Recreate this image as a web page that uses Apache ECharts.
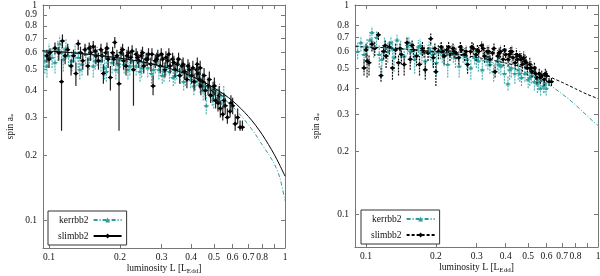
<!DOCTYPE html>
<html><head><meta charset="utf-8">
<script src="https://cdn.jsdelivr.net/npm/echarts@6/dist/echarts.min.js"></script>
<style>html,body{margin:0;padding:0;background:#fff}#c{width:600px;height:276px}</style>
</head><body><div id="c"></div>
<script>
// ---- ticks ----
const xTicks = [0.1,0.2,0.3,0.4,0.5,0.6,0.7,0.8,0.9,1];
const xTickLabels = [0.1,0.2,0.3,0.4,0.5,0.6,0.7,0.8,1];
const yTicks = [0.1,0.2,0.3,0.4,0.5,0.6,0.7,0.8,0.9,1];

// ---- left panel: slimbb2 (black) ----
const leftSlimL  = [0.098,0.100,0.101,0.106,0.110,0.113,0.114,0.117,0.120,0.124,0.127,0.130,0.133,0.136,0.139,0.142,0.146,0.150,0.154,0.158,0.162,0.166,0.170,0.174,0.178,0.182,0.186,0.190,0.194,0.198,0.202,0.207,0.212,0.217,0.222,0.228,0.234,0.240,0.246,0.252,0.258,0.264,0.270,0.276,0.282,0.289,0.296,0.303,0.310,0.318,0.326,0.334,0.342,0.350,0.358,0.366,0.375,0.384,0.393,0.402,0.412,0.422,0.428,0.434,0.440,0.448,0.460,0.472,0.484,0.496,0.508,0.520,0.532,0.545,0.558,0.570,0.585,0.600,0.615,0.630,0.645,0.660];
const leftSlimA  = [0.58,0.56,0.60,0.63,0.60,0.44,0.68,0.58,0.62,0.52,0.58,0.48,0.66,0.60,0.55,0.62,0.52,0.60,0.64,0.58,0.55,0.62,0.48,0.60,0.56,0.46,0.60,0.67,0.58,0.43,0.60,0.55,0.52,0.60,0.57,0.50,0.59,0.55,0.58,0.52,0.56,0.59,0.53,0.42,0.55,0.58,0.52,0.56,0.50,0.55,0.52,0.56,0.50,0.53,0.47,0.52,0.49,0.45,0.50,0.47,0.44,0.50,0.48,0.45,0.42,0.44,0.40,0.42,0.38,0.40,0.36,0.35,0.33,0.31,0.34,0.30,0.32,0.34,0.28,0.30,0.27,0.27];
const leftSlimLo = [0.54,0.51,0.56,0.59,0.55,0.26,0.63,0.53,0.58,0.47,0.54,0.42,0.62,0.56,0.50,0.58,0.47,0.55,0.60,0.53,0.50,0.58,0.43,0.56,0.51,0.40,0.56,0.63,0.53,0.26,0.56,0.50,0.47,0.56,0.53,0.34,0.55,0.51,0.54,0.48,0.52,0.55,0.49,0.38,0.51,0.54,0.48,0.52,0.46,0.51,0.48,0.52,0.46,0.49,0.43,0.48,0.45,0.41,0.46,0.43,0.40,0.46,0.44,0.41,0.38,0.40,0.36,0.38,0.35,0.36,0.33,0.32,0.30,0.29,0.31,0.28,0.30,0.31,0.26,0.28,0.26,0.26];
const leftSlimHi = [0.62,0.60,0.63,0.67,0.64,0.56,0.73,0.62,0.66,0.56,0.62,0.54,0.69,0.64,0.60,0.66,0.57,0.65,0.68,0.62,0.60,0.66,0.53,0.64,0.61,0.52,0.64,0.71,0.62,0.56,0.64,0.60,0.57,0.64,0.61,0.55,0.63,0.59,0.62,0.56,0.60,0.63,0.57,0.47,0.59,0.62,0.56,0.60,0.54,0.59,0.56,0.60,0.54,0.57,0.51,0.56,0.53,0.49,0.54,0.51,0.48,0.54,0.52,0.49,0.46,0.48,0.44,0.46,0.42,0.44,0.40,0.38,0.36,0.34,0.37,0.33,0.35,0.37,0.31,0.33,0.29,0.29];
const leftSlimExtraL  = [0.148,0.157,0.168,0.176,0.188,0.205,0.214,0.225,0.237,0.249,0.261,0.273,0.286,0.299,0.313,0.322,0.338,0.354,0.370,0.388,0.407,0.425,0.437,0.454,0.478,0.502,0.526,0.551,0.590];
const leftSlimExtraA  = [0.63,0.61,0.58,0.63,0.56,0.62,0.58,0.61,0.57,0.60,0.56,0.59,0.56,0.59,0.57,0.59,0.54,0.56,0.53,0.52,0.51,0.53,0.51,0.47,0.45,0.42,0.38,0.36,0.35];
const leftSlimExtraLo = [0.59,0.57,0.54,0.59,0.52,0.58,0.54,0.57,0.53,0.56,0.52,0.55,0.52,0.55,0.53,0.55,0.50,0.52,0.49,0.48,0.47,0.49,0.47,0.43,0.41,0.38,0.35,0.33,0.32];
const leftSlimExtraHi = [0.67,0.65,0.62,0.67,0.60,0.66,0.62,0.65,0.61,0.64,0.60,0.63,0.60,0.63,0.61,0.63,0.58,0.60,0.57,0.56,0.55,0.57,0.55,0.51,0.49,0.46,0.42,0.39,0.38];

// ---- left panel: kerrbb2 (teal) ----
const leftKerrL  = [0.094,0.096,0.098,0.100,0.103,0.106,0.109,0.111,0.113,0.115,0.118,0.121,0.125,0.129,0.133,0.138,0.143,0.148,0.154,0.160,0.166,0.172,0.178,0.185,0.192,0.200,0.208,0.216,0.225,0.234,0.243,0.252,0.262,0.272,0.282,0.292,0.302,0.313,0.324,0.336,0.348,0.360,0.372,0.385,0.398,0.411,0.424,0.437,0.450,0.464,0.478,0.492,0.506,0.520,0.535,0.550];
const leftKerrA  = [0.58,0.55,0.52,0.60,0.57,0.54,0.62,0.66,0.60,0.56,0.63,0.58,0.55,0.60,0.57,0.53,0.59,0.56,0.52,0.58,0.55,0.51,0.57,0.54,0.50,0.56,0.53,0.50,0.55,0.52,0.49,0.54,0.51,0.48,0.53,0.50,0.47,0.52,0.49,0.46,0.50,0.47,0.44,0.48,0.45,0.42,0.46,0.43,0.40,0.34,0.41,0.38,0.40,0.37,0.35,0.38];
const leftKerrLo = [0.52,0.48,0.46,0.54,0.51,0.48,0.55,0.59,0.53,0.49,0.56,0.52,0.49,0.54,0.51,0.47,0.53,0.50,0.46,0.52,0.49,0.45,0.51,0.48,0.45,0.51,0.48,0.45,0.50,0.47,0.44,0.49,0.46,0.43,0.48,0.45,0.43,0.47,0.44,0.42,0.45,0.43,0.40,0.44,0.41,0.38,0.42,0.39,0.36,0.31,0.37,0.34,0.36,0.33,0.32,0.34];
const leftKerrHi = [0.64,0.62,0.58,0.66,0.63,0.60,0.69,0.72,0.67,0.63,0.70,0.64,0.61,0.66,0.63,0.59,0.65,0.62,0.58,0.64,0.61,0.57,0.63,0.60,0.56,0.62,0.58,0.55,0.60,0.57,0.54,0.59,0.56,0.53,0.58,0.55,0.52,0.57,0.54,0.51,0.55,0.52,0.49,0.53,0.50,0.47,0.51,0.48,0.45,0.38,0.45,0.42,0.44,0.41,0.39,0.42];
const leftKerrExtraL  = [0.135,0.157,0.175,0.196,0.220,0.247,0.277,0.307,0.342,0.378,0.417,0.457,0.499,0.528];
const leftKerrExtraA  = [0.50,0.55,0.49,0.53,0.52,0.51,0.50,0.49,0.47,0.46,0.44,0.42,0.36,0.39];
const leftKerrExtraLo = [0.45,0.50,0.44,0.48,0.47,0.46,0.45,0.44,0.43,0.42,0.40,0.38,0.33,0.35];
const leftKerrExtraHi = [0.56,0.61,0.55,0.59,0.57,0.56,0.55,0.54,0.52,0.51,0.49,0.47,0.40,0.43];

// ---- right panel: slimbb2 (black) ----
const rightSlimL  = [0.098,0.100,0.101,0.103,0.106,0.109,0.113,0.116,0.119,0.122,0.126,0.130,0.134,0.138,0.142,0.146,0.150,0.155,0.160,0.165,0.170,0.175,0.180,0.185,0.190,0.195,0.200,0.205,0.211,0.217,0.223,0.230,0.237,0.244,0.251,0.258,0.266,0.274,0.282,0.290,0.298,0.306,0.315,0.324,0.333,0.342,0.351,0.360,0.370,0.380,0.390,0.400,0.410,0.420,0.430,0.440,0.450,0.460,0.472,0.484,0.496,0.508,0.520,0.532,0.545,0.558,0.572,0.586,0.600,0.615,0.630];
const rightSlimA  = [0.50,0.61,0.54,0.53,0.65,0.62,0.72,0.46,0.60,0.57,0.63,0.50,0.61,0.53,0.58,0.52,0.66,0.55,0.61,0.57,0.52,0.62,0.49,0.59,0.69,0.56,0.48,0.60,0.63,0.57,0.61,0.58,0.62,0.59,0.56,0.61,0.58,0.52,0.60,0.62,0.58,0.60,0.64,0.57,0.60,0.55,0.59,0.48,0.57,0.60,0.55,0.58,0.55,0.60,0.56,0.53,0.55,0.57,0.52,0.54,0.50,0.52,0.48,0.50,0.45,0.47,0.46,0.44,0.46,0.43,0.43];
const rightSlimLo = [0.46,0.56,0.45,0.46,0.60,0.57,0.68,0.43,0.55,0.50,0.58,0.44,0.56,0.46,0.52,0.46,0.62,0.49,0.56,0.51,0.46,0.57,0.44,0.54,0.65,0.50,0.41,0.55,0.59,0.52,0.57,0.54,0.58,0.55,0.52,0.57,0.54,0.47,0.56,0.58,0.54,0.56,0.60,0.53,0.56,0.51,0.55,0.45,0.53,0.56,0.51,0.54,0.51,0.56,0.52,0.49,0.51,0.54,0.48,0.50,0.46,0.48,0.45,0.47,0.42,0.44,0.43,0.41,0.43,0.41,0.41];
const rightSlimHi = [0.55,0.66,0.59,0.58,0.69,0.67,0.75,0.51,0.65,0.62,0.67,0.55,0.66,0.58,0.63,0.57,0.70,0.60,0.66,0.62,0.57,0.67,0.54,0.64,0.73,0.61,0.53,0.65,0.67,0.62,0.65,0.62,0.66,0.63,0.60,0.65,0.62,0.56,0.64,0.66,0.62,0.64,0.67,0.61,0.64,0.59,0.63,0.52,0.61,0.64,0.59,0.62,0.59,0.63,0.60,0.57,0.59,0.60,0.56,0.58,0.54,0.56,0.52,0.53,0.48,0.50,0.49,0.47,0.49,0.46,0.45];
const rightSlimExtraL  = [0.121,0.140,0.158,0.178,0.198,0.214,0.227,0.240,0.255,0.270,0.286,0.302,0.320,0.338,0.356,0.375,0.395,0.415,0.425,0.445,0.466,0.478,0.490,0.514,0.538,0.565,0.593];
const rightSlimExtraA  = [0.64,0.62,0.64,0.60,0.62,0.60,0.63,0.60,0.63,0.60,0.63,0.61,0.62,0.60,0.62,0.59,0.61,0.58,0.60,0.58,0.55,0.56,0.53,0.50,0.47,0.45,0.47];
const rightSlimExtraLo = [0.60,0.58,0.60,0.56,0.58,0.56,0.59,0.56,0.59,0.56,0.59,0.57,0.58,0.56,0.58,0.55,0.57,0.54,0.56,0.54,0.51,0.52,0.49,0.47,0.44,0.42,0.44];
const rightSlimExtraHi = [0.68,0.66,0.68,0.64,0.66,0.64,0.67,0.64,0.67,0.64,0.67,0.65,0.66,0.64,0.66,0.63,0.65,0.62,0.64,0.62,0.59,0.60,0.57,0.54,0.51,0.48,0.50];

// ---- right panel: kerrbb2 (teal) ----
const rightKerrL  = [0.089,0.092,0.095,0.098,0.101,0.104,0.106,0.108,0.111,0.114,0.117,0.120,0.124,0.128,0.132,0.136,0.141,0.146,0.151,0.156,0.162,0.168,0.174,0.180,0.187,0.194,0.201,0.209,0.217,0.225,0.234,0.243,0.252,0.262,0.272,0.283,0.294,0.305,0.317,0.329,0.342,0.355,0.368,0.381,0.395,0.409,0.423,0.438,0.453,0.468,0.484,0.500,0.516,0.532,0.548,0.565,0.582,0.598];
const rightKerrA  = [0.64,0.60,0.66,0.58,0.63,0.68,0.74,0.62,0.70,0.58,0.55,0.64,0.60,0.66,0.56,0.68,0.62,0.57,0.64,0.60,0.55,0.63,0.59,0.54,0.62,0.58,0.53,0.61,0.57,0.52,0.60,0.56,0.51,0.58,0.55,0.50,0.57,0.54,0.49,0.56,0.52,0.48,0.54,0.51,0.47,0.42,0.50,0.47,0.49,0.45,0.47,0.44,0.46,0.43,0.42,0.40,0.41,0.40];
const rightKerrLo = [0.59,0.55,0.60,0.52,0.57,0.62,0.69,0.56,0.64,0.50,0.46,0.58,0.53,0.60,0.48,0.62,0.56,0.50,0.58,0.53,0.47,0.57,0.52,0.46,0.56,0.51,0.46,0.55,0.51,0.45,0.55,0.50,0.45,0.53,0.49,0.44,0.52,0.48,0.44,0.51,0.47,0.43,0.49,0.46,0.42,0.39,0.45,0.42,0.44,0.41,0.43,0.40,0.42,0.39,0.38,0.37,0.38,0.37];
const rightKerrHi = [0.69,0.66,0.71,0.64,0.69,0.74,0.79,0.68,0.75,0.64,0.61,0.70,0.66,0.71,0.62,0.72,0.68,0.63,0.69,0.66,0.61,0.68,0.65,0.60,0.67,0.64,0.59,0.66,0.62,0.58,0.65,0.61,0.56,0.63,0.60,0.55,0.62,0.59,0.54,0.61,0.57,0.53,0.59,0.56,0.52,0.46,0.55,0.52,0.54,0.50,0.52,0.48,0.50,0.47,0.46,0.44,0.45,0.43];
const rightKerrExtraL  = [0.130,0.153,0.171,0.190,0.213,0.238,0.267,0.299,0.335,0.374,0.416,0.460,0.508,0.556,0.590];
const rightKerrExtraA  = [0.62,0.66,0.64,0.60,0.59,0.58,0.57,0.55,0.54,0.52,0.49,0.47,0.45,0.43,0.42];
const rightKerrExtraLo = [0.56,0.60,0.58,0.54,0.53,0.53,0.52,0.50,0.49,0.47,0.44,0.43,0.41,0.39,0.38];
const rightKerrExtraHi = [0.68,0.71,0.69,0.66,0.64,0.63,0.62,0.60,0.59,0.57,0.54,0.52,0.49,0.47,0.46];

// ---- fitted curves ----
const fitL          = [0.09,0.1,0.12,0.15,0.2,0.25,0.3,0.35,0.4,0.45,0.5,0.55,0.6,0.65,0.7,0.75,0.8,0.85,0.9,0.95,1.0];
const leftSlimFit   = [0.613,0.610,0.602,0.588,0.566,0.543,0.519,0.494,0.467,0.440,0.412,0.385,0.358,0.330,0.303,0.276,0.250,0.225,0.202,0.180,0.160];
const leftKerrFit   = [0.616,0.613,0.605,0.590,0.565,0.540,0.515,0.487,0.458,0.428,0.398,0.367,0.336,0.306,0.277,0.250,0.224,0.203,0.183,0.158,0.123];
const rightSlimFit  = [0.633,0.630,0.625,0.615,0.598,0.580,0.562,0.545,0.528,0.512,0.495,0.478,0.460,0.443,0.427,0.412,0.398,0.385,0.374,0.365,0.357];
const rightKerrFit  = [0.636,0.632,0.625,0.612,0.592,0.572,0.552,0.532,0.511,0.491,0.470,0.447,0.423,0.399,0.376,0.354,0.333,0.313,0.295,0.279,0.266];

// axis ranges (data units)
const leftXMin = 0.0943, rightXMin = 0.0896, leftYMin = 0.0741, rightYMin = 0.0698;

const TEAL = '#2a9d9d';
const FONT = 'Liberation Serif';
const AX = '#777';
const lg = Math.log10;

function errSeries(name, xi, yi, L, A, LO, HI, st) {
  return {
    type: 'custom', name: name, xAxisIndex: xi, yAxisIndex: yi, z: st.z, clip: true,
    silent: true,
    data: L.map((x, i) => [lg(x), lg(A[i]), lg(LO[i]), lg(HI[i])]),
    encode: { x: 0, y: [1, 2, 3] },
    renderItem: function (params, api) {
      const x = api.value(0);
      const p = api.coord([x, api.value(1)]);
      const lo = api.coord([x, api.value(2)]);
      const hi = api.coord([x, api.value(3)]);
      const s = st.size;
      const marker = st.shape === 'tri'
        ? { type: 'polygon', shape: { points: [[p[0], p[1] - s], [p[0] - s, p[1] + s * 0.8], [p[0] + s, p[1] + s * 0.8]] }, style: { fill: st.mark } }
        : { type: 'polygon', shape: { points: [[p[0], p[1] - s], [p[0] + s, p[1]], [p[0], p[1] + s], [p[0] - s, p[1]]] }, style: { fill: st.mark } };
      return {
        type: 'group',
        children: [
          { type: 'line', shape: { x1: p[0], y1: lo[1], x2: p[0], y2: hi[1] }, style: { stroke: st.bar, lineWidth: st.bw, lineDash: st.dash } },
          { type: 'line', shape: { x1: p[0] - 2.5, y1: p[1], x2: p[0] + 2.5, y2: p[1] }, style: { stroke: st.mark, lineWidth: 1 } },
          marker
        ]
      };
    }
  };
}

function fitSeries(name, xi, yi, Y, color, dash, symbol, z) {
  return {
    type: 'line', name: name, xAxisIndex: xi, yAxisIndex: yi, z: z,
    data: fitL.map((x, i) => [lg(x), lg(Y[i])]),
    smooth: 0.3, showSymbol: false, symbol: symbol, symbolSize: 5,
    itemStyle: { color: color },
    lineStyle: { color: color, width: 1, type: dash },
    silent: true
  };
}

const labelFmt = v => String(Math.round(Math.pow(10, v) * 10) / 10);

function xAx(grid, min, pos, showLabel) {
  return {
    type: 'value', gridIndex: grid, position: pos, min: lg(min), max: 0,
    axisLine: { show: true, onZero: false, lineStyle: { color: AX, width: 1 } },
    axisTick: { show: true, inside: true, length: 4, customValues: xTicks.map(lg), lineStyle: { color: AX } },
    axisLabel: { show: showLabel, customValues: xTickLabels.map(lg), formatter: labelFmt, margin: 4,
      fontFamily: FONT, fontSize: 9.5, color: '#111', showMinLabel: true, showMaxLabel: true, hideOverlap: false },
    splitLine: { show: false }, minorTick: { show: false },
    name: showLabel ? 'luminosity L [L{sub|Edd}]' : '',
    nameLocation: 'middle', nameGap: 13, nameMoveOverlap: false,
    nameTextStyle: { fontFamily: FONT, fontSize: 9.5, color: '#111', lineHeight: 14,
      rich: { sub: { fontFamily: FONT, fontSize: 7, color: '#111', verticalAlign: 'bottom', lineHeight: 14 } } }
  };
}
function yAx(grid, min, pos, showLabel, gap) {
  return {
    type: 'value', gridIndex: grid, position: pos, min: lg(min), max: 0,
    axisLine: { show: true, onZero: false, lineStyle: { color: AX, width: 1 } },
    axisTick: { show: true, inside: true, length: 4, customValues: yTicks.map(lg), lineStyle: { color: AX } },
    axisLabel: { show: showLabel, customValues: yTicks.map(lg), formatter: labelFmt, margin: 6,
      fontFamily: FONT, fontSize: 9.5, color: '#111', showMinLabel: true, showMaxLabel: true, hideOverlap: false },
    splitLine: { show: false }, minorTick: { show: false },
    name: showLabel ? 'spin a{sub|*}' : '',
    nameLocation: 'middle', nameGap: gap, nameRotate: 90, nameMoveOverlap: false,
    nameTextStyle: { fontFamily: FONT, fontSize: 9.5, color: '#111', lineHeight: 14,
      rich: { sub: { fontFamily: FONT, fontSize: 7, color: '#111', verticalAlign: 'bottom', lineHeight: 14 } } }
  };
}

function legend(left, top, names) {
  return {
    left: left, top: top, orient: 'vertical', align: 'right',
    data: names, formatter: n => n.trim(),
    itemWidth: 28, itemHeight: 6, itemGap: 6,
    padding: [4, 4, 4, 10],
    borderColor: '#333', borderWidth: 1, borderRadius: 0,
    backgroundColor: '#fff',
    selectedMode: false,
    textStyle: { fontFamily: FONT, fontSize: 9.5, color: '#111' }
  };
}

const cat = (a, b) => a.concat(b);
const TEAL_ST = { z: 2, shape: 'tri', mark: TEAL, bar: '#4fb3b3', dash: [2, 1], bw: 1.2, size: 2 };

const chart = echarts.init(document.getElementById('c'), null, { renderer: 'canvas' });
chart.setOption({
  animation: false,
  backgroundColor: '#fff',
  grid: [
    { left: 43, top: 5, width: 242, height: 243, containLabel: false, outerBoundsMode: 'none' },
    { left: 355, top: 5, width: 243, height: 242, containLabel: false, outerBoundsMode: 'none' }
  ],
  xAxis: [
    xAx(0, leftXMin, 'bottom', true), xAx(0, leftXMin, 'top', false),
    xAx(1, rightXMin, 'bottom', true), xAx(1, rightXMin, 'top', false)
  ],
  yAxis: [
    yAx(0, leftYMin, 'left', true, 26), yAx(0, leftYMin, 'right', false, 0),
    yAx(1, rightYMin, 'left', true, 32), yAx(1, rightYMin, 'right', false, 0)
  ],
  legend: [
    legend(48, 211, ['kerrbb2', 'slimbb2']),
    legend(361, 210, ['kerrbb2 ', 'slimbb2 '])
  ],
  series: [
    fitSeries('kerrbb2', 0, 0, leftKerrFit, TEAL, [4, 2, 1, 2], 'triangle', 5),
    fitSeries('slimbb2', 0, 0, leftSlimFit, '#000', 'solid', 'diamond', 6),
    fitSeries('kerrbb2 ', 2, 2, rightKerrFit, TEAL, [4, 2, 1, 2], 'triangle', 5),
    fitSeries('slimbb2 ', 2, 2, rightSlimFit, '#000', [3, 2], 'diamond', 6),
    errSeries('kerrbb2 data', 0, 0, cat(leftKerrL, leftKerrExtraL), cat(leftKerrA, leftKerrExtraA), cat(leftKerrLo, leftKerrExtraLo), cat(leftKerrHi, leftKerrExtraHi), TEAL_ST),
    errSeries('slimbb2 data', 0, 0, cat(leftSlimL, leftSlimExtraL), cat(leftSlimA, leftSlimExtraA), cat(leftSlimLo, leftSlimExtraLo), cat(leftSlimHi, leftSlimExtraHi), { z: 3, shape: 'dia', mark: '#000', bar: '#222', dash: null, bw: 1.2, size: 2.3 }),
    errSeries('kerrbb2 data2', 2, 2, cat(rightKerrL, rightKerrExtraL), cat(rightKerrA, rightKerrExtraA), cat(rightKerrLo, rightKerrExtraLo), cat(rightKerrHi, rightKerrExtraHi), TEAL_ST),
    errSeries('slimbb2 data2', 2, 2, cat(rightSlimL, rightSlimExtraL), cat(rightSlimA, rightSlimExtraA), cat(rightSlimLo, rightSlimExtraLo), cat(rightSlimHi, rightSlimExtraHi), { z: 3, shape: 'dia', mark: '#000', bar: '#111', dash: [2, 1], bw: 1.2, size: 2.3 })
  ]
});
</script>
</body></html>
